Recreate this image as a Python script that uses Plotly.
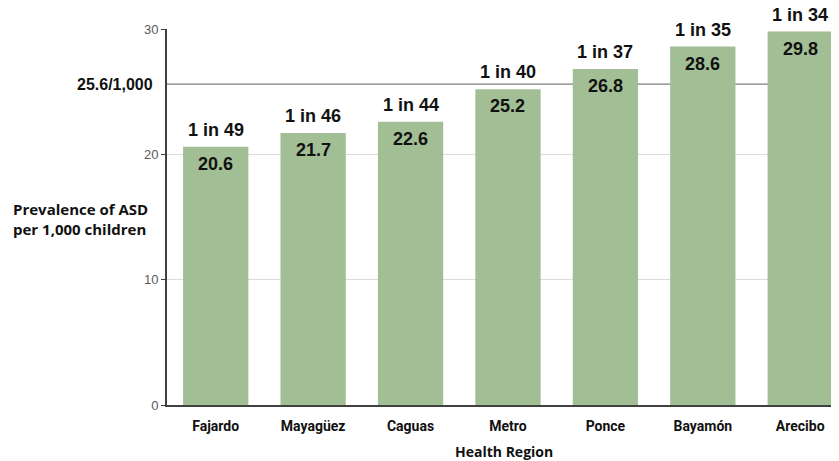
import plotly.graph_objects as go

# Data
regions = ["Fajardo", "Mayagüez", "Caguas", "Metro", "Ponce", "Bayamón", "Arecibo"]
prevalence = [20.6, 21.7, 22.6, 25.2, 26.8, 28.6, 29.8]
one_in = ["1 in 49", "1 in 46", "1 in 44", "1 in 40", "1 in 37", "1 in 35", "1 in 34"]
overall_rate = 25.6
overall_label = "25.6/1,000"

bar_color = "#a2be94"
val_font = dict(family="Liberation Sans", size=18, color="#111111")

fig = go.Figure()
fig.add_trace(go.Bar(
    x=regions,
    y=prevalence,
    marker=dict(color=bar_color, line=dict(width=0)),
    width=0.67,
    cliponaxis=False,
    hoverinfo="skip",
))

# labels inside (value) and above (1 in N) each bar
for r, v, lab in zip(regions, prevalence, one_in):
    fig.add_annotation(x=r, y=v, text=f"<b>{v}</b>", showarrow=False,
                       yshift=-17, yanchor="middle", font=val_font)
    fig.add_annotation(x=r, y=v, text=f"<b>{lab}</b>", showarrow=False,
                       yshift=17, yanchor="middle", font=val_font)

# overall prevalence reference line
fig.add_shape(type="line", xref="paper", x0=0, x1=1, yref="y",
              y0=overall_rate, y1=overall_rate,
              line=dict(color="#7f7f7f", width=1.2), layer="below")
fig.add_annotation(xref="paper", x=-0.0175, y=overall_rate, xanchor="right",
                   yanchor="middle", text=f"<b>{overall_label}</b>", showarrow=False,
                   font=dict(family="Liberation Sans", size=16, color="#111111"))

# y title as horizontal text
fig.add_annotation(xref="paper", yref="paper", x=-0.2296, y=0.495, xanchor="left",
                   yanchor="middle", align="left", showarrow=False,
                   text="<b>Prevalence of ASD<br>per 1,000 children</b>",
                   font=dict(family="Open Sans", size=15, color="#111111"))

# x title
fig.add_annotation(xref="paper", yref="paper", x=0.496, y=-0.124, xanchor="center",
                   yanchor="middle", showarrow=False, text="<b>Health Region</b>",
                   font=dict(family="Open Sans", size=14, color="#111111"))

fig.update_layout(
    width=839, height=461,
    margin=dict(l=159, r=0, t=21, b=64),
    plot_bgcolor="white", paper_bgcolor="white",
    showlegend=False,
    xaxis=dict(
        range=[-0.5, 6.48],
        showline=True, linecolor="#404040", linewidth=2,
        ticks="", showgrid=False,
        tickfont=dict(family="Roboto", size=14, color="#111111"),
        tickprefix="<b>", ticksuffix="</b>",
        ticklabelstandoff=7,
    ),
    yaxis=dict(
        range=[0, 30],
        tickvals=[0, 10, 20, 30],
        showline=True, linecolor="#404040", linewidth=2,
        ticks="outside", ticklen=4, tickcolor="#404040",
        showgrid=True, gridcolor="#dcdcdc", gridwidth=1,
        zeroline=False,
        tickfont=dict(family="Liberation Sans", size=13, color="#595959"),
    ),
)

fig.write_html("out.html")
